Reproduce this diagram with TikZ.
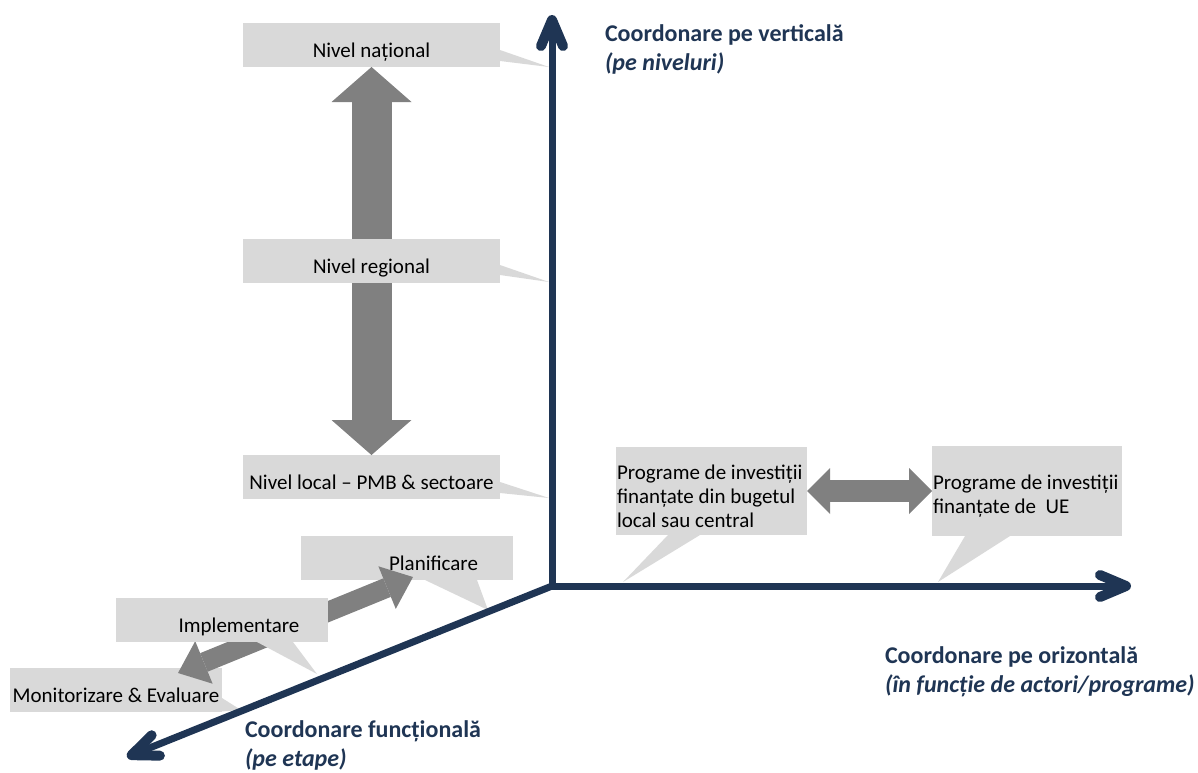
\documentclass[tikz,border=0pt]{standalone}
\usepackage{fontspec}
\setmainfont{Carlito}
\usetikzlibrary{arrows.meta,calc}
\definecolor{navy}{RGB}{31,53,84}
\definecolor{boxgray}{RGB}{217,217,217}
\definecolor{arrgray}{RGB}{128,128,128}
\newcommand\diagbody{\fontsize{21}{24}\selectfont}
\newcommand\diagtitle{\bfseries\fontsize{24}{29}\selectfont}
\begin{document}
\begin{tikzpicture}[x=1pt,y=-1pt,
  every node/.style={inner sep=0pt, outer sep=0pt},
  callbox/.style={fill=boxgray, minimum width=212pt, minimum height=44pt, font=\diagbody, text height=24pt, text depth=0pt},
  lvlbox/.style={callbox, minimum width=257pt},
  progbox/.style={fill=boxgray, minimum width=#1, anchor=north west},
  progtext/.style={font=\diagbody, align=left, anchor=north west},
  pointer/.style={fill=boxgray},
  ttl/.style={font=\diagtitle, text=navy, align=left, anchor=north west},
  axisline/.style={draw=navy, line width=7pt, line join=miter},
  vtip/.tip={Straight Barb[round, length=26pt, width=22pt, line width=10pt]},
  bigtip/.tip={Triangle[length=35pt, width=80pt, line width=0pt]},
  midtip/.tip={Triangle[length=23pt, width=46pt, line width=0pt]},
  steptip/.tip={Triangle[length=28pt, width=46pt, line width=0pt]}
]
\useasboundingbox (0,0) rectangle (1198,772);

% axis coordinates
\coordinate (O) at (552,586);
\coordinate (Vtop) at (552,15);
\coordinate (Hend) at (1131,586);
\coordinate (Dend) at (127,757);

% ---- vertical levels ----
\node[lvlbox] (natl) at (371.5,45) {Nivel național};
\node[lvlbox] (local) at (371.5,477) {Nivel local – PMB \& sectoare};
\draw[draw=arrgray, line width=40pt, bigtip-bigtip] (natl.south) -- (local.north);
\node[lvlbox] (reg) at (371.5,261) {Nivel regional};

\coordinate (tN) at (549,67);
\coordinate (tR) at (549,282);
\coordinate (tL) at (549,498);
\fill[pointer] ($(natl.east)+(0,5)$) -- ($(natl.south east)+(0,-6)$) -- (tN) -- cycle;
\fill[pointer] ($(reg.east)+(0,4)$) -- ($(reg.south east)+(0,-8)$) -- (tR) -- cycle;
\fill[pointer] ($(local.east)+(0,5)$) -- ($(local.south east)+(0,-6)$) -- (tL) -- cycle;

% ---- horizontal programmes ----
\node[progbox=191pt, minimum height=88pt] (p1) at (616,447) {};
\node[progbox=190pt, minimum height=90pt] (p2) at (932,446) {};
\node[progtext] (p1t) at ($(p1.north west)+(1,18)$)
  {Programe de investiții\\finanțate din bugetul\\local sau central};
\node[progtext] (p2t) at ($(p2.north west)+(1,29)$)
  {Programe de investiții\\finanțate de\ \ UE};
\draw[draw=arrgray, line width=22pt, midtip-midtip] (p1.east) -- (p2.west);
\coordinate (tP1) at (623,582);
\coordinate (tP2) at (938,582);
\fill[pointer] ($(p1.south west)+(52,0)$) -- ($(p1.south west)+(84,0)$) -- (tP1) -- cycle;
\fill[pointer] ($(p2.south west)+(33,0)$) -- ($(p2.south west)+(78,0)$) -- (tP2) -- cycle;

% ---- functional steps ----
\node[callbox] (plan) at (407,558) {\hspace*{53pt}Planificare};
\node[callbox] (mon) at (116,690) {Monitorizare \& Evaluare};
\coordinate (tPl) at (488,610);
\coordinate (tM) at (241,710);
\fill[pointer] ($(plan.south west)+(124,0)$) -- ($(plan.south west)+(176,0)$) -- (tPl) -- cycle;
\fill[pointer] ($(mon.south east)+(0,-14)$) -- ($(mon.south east)+(-8,0)$) -- (tM) -- cycle;
\coordinate (sM) at (178,673);
\coordinate (sP) at (413,577);
\draw[draw=arrgray, line width=20pt, steptip-steptip] (sM) -- (sP);
\node[callbox] (impl) at (222,620) {\hspace*{34pt}Implementare};
\coordinate (tI) at (317,674);
\fill[pointer] ($(impl.south west)+(141,0)$) -- ($(impl.south west)+(177,0)$) -- (tI) -- cycle;

% ---- axes ----
\draw[axisline, vtip-vtip] (Vtop) -- (O) -- (Hend);
\draw[axisline, -vtip] (O) -- (Dend);

% ---- axis labels ----
\node[ttl] (lblV) at (605,25) {Coordonare pe verticală\\\textit{(pe niveluri)}};
\node[ttl] (lblH) at (885,647) {Coordonare pe orizontală\\\textit{(în funcție de actori/programe)}};
\node[ttl] (lblF) at (245,721) {Coordonare funcțională\\\textit{(pe etape)}};
\end{tikzpicture}
\end{document}
